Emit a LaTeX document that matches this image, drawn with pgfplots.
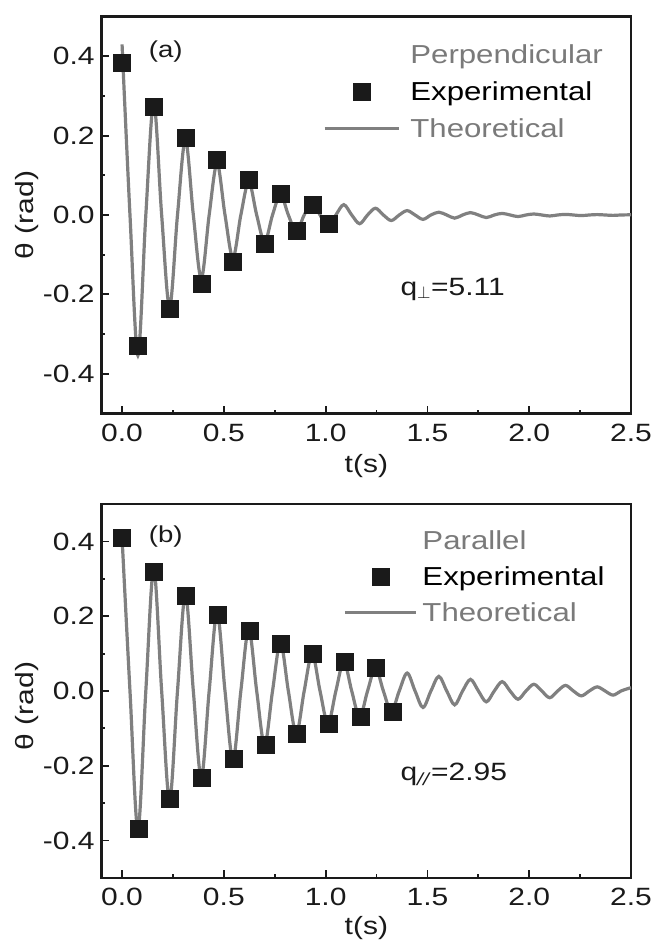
\documentclass[border=0pt]{standalone}
\usepackage{pgfplots}
\pgfplotsset{compat=1.18}
\usepackage{fontspec}
\setmainfont{Liberation Sans}[FakeStretch=1.2]
\definecolor{curve}{HTML}{808080}
\definecolor{ink}{HTML}{1A1A1A}
\definecolor{legray}{HTML}{7A7A7A}
\newcommand{\bigf}{\fontsize{25}{30}\selectfont}
\newcommand{\legf}{\fontsize{26}{30}\selectfont}
\pgfplotsset{
  panel/.style={
    scale only axis, width=529.3pt,
    xmin=-0.1, xmax=2.5, ymin=-0.5, ymax=0.5,
    xtick={0,0.5,1,1.5,2,2.5}, ytick={-0.4,-0.2,0,0.2,0.4},
    minor x tick num=1, minor y tick num=1,
    tick align=inside, tick pos=left,
    axis line style={line width=2.6pt, ink},
    every tick/.style={line width=1.8pt, ink},
    major tick length=7.7pt, minor tick length=3.5pt,
    tick label style={font=\bigf, text=ink},
    /pgf/number format/assume math mode=true,
    xticklabel style={/pgf/number format/.cd, fixed, fixed zerofill, precision=1, /tikz/.cd, yshift=-7pt},
    yticklabel style={/pgf/number format/.cd, fixed, fixed zerofill, precision=1, /tikz/.cd, xshift=-3.5pt},
    legend cell align=left,
    every axis x label/.style={at={(axis description cs:0.5,-0.134)}, anchor=center, font=\bigf, text=ink},
    xlabel={t(s)},
    ylabel={θ (rad)},
  },
  legA/.style={legend image code/.code={\draw[mark repeat=2,mark phase=2,##1] plot coordinates {(0pt,0pt) (37pt,0pt) (74pt,0pt)};}},
  legB/.style={legend image code/.code={\draw[mark repeat=2,mark phase=2,##1] plot coordinates {(0pt,0pt) (35.5pt,0pt) (71pt,0pt)};}},
  titleA/.style={legend image code/.code={\path[draw=none, fill=none] (0pt,-1pt) rectangle (74pt,1pt);}},
  titleB/.style={legend image code/.code={\path[draw=none, fill=none] (0pt,-1pt) rectangle (71pt,1pt);}},
  expstyle/.style={only marks, mark=square*, mark size=8.5pt, mark options={fill=ink, draw=ink, line width=0.4pt}},
  theostyle/.style={curve, line width=3.2pt, smooth, tension=0.55, no marks},
}
\begin{document}
\begin{tikzpicture}
\path[use as bounding box] (0,0) rectangle (656pt,950pt);
% ---------------- panel (a)
\begin{axis}[panel, legA, at={(101.7pt,536.7pt)}, anchor=south west, height=396.6pt,
  every axis y label/.style={at={(axis description cs:-0.141,0.5)}, rotate=90, anchor=center, font=\bigf, text=ink},
  legend style={draw=none, fill=none, font=\legf, at={(0.418,0.935)}, anchor=north west, row sep=12.5pt, inner sep=0pt,
    /tikz/every odd column/.append style={column sep=8pt}},
]
\addlegendimage{titleA}
\addlegendentry{\textcolor{legray}{Perpendicular}}
\addplot[expstyle] coordinates {
(0,0.383) (0.078,-0.329) (0.156,0.274) (0.234,-0.237) (0.312,0.196) (0.39,-0.172) (0.467,0.139)
(0.545,-0.117) (0.623,0.089) (0.70,-0.073) (0.778,0.053) (0.856,-0.04) (0.934,0.025) (1.013,-0.021)};
\addlegendentry{Experimental}
\addplot[theostyle] coordinates {
(0,0.43) (0.0389,0) (0.0778,-0.354) (0.1167,0) (0.1556,0.283) (0.1945,0) (0.2334,-0.232) (0.2723,0)
(0.3112,0.19) (0.3501,0) (0.389,-0.16) (0.4279,0) (0.4668,0.13) (0.5057,0) (0.5446,-0.108) (0.5835,0)
(0.6224,0.084) (0.6613,0) (0.7002,-0.068) (0.7391,0) (0.778,0.052) (0.8169,0) (0.8558,-0.042) (0.8947,0)
(0.9336,0.032) (0.9725,0) (1.0114,-0.03) (1.0503,0) (1.0892,0.026) (1.1281,0) (1.167,-0.022) (1.2059,0)
(1.2448,0.017) (1.2837,0) (1.3226,-0.014) (1.3615,0) (1.4004,0.011) (1.4393,0) (1.4782,-0.011) (1.5171,0)
(1.556,0.007) (1.5949,0) (1.6338,-0.008) (1.6727,0) (1.7116,0.006) (1.7505,0) (1.7894,-0.0065) (1.8283,0)
(1.8672,0.004) (1.9061,0) (1.945,-0.004) (1.9839,0) (2.0228,0.0025) (2.0617,0) (2.1006,-0.0025) (2.1395,0)
(2.1784,0.0015) (2.2173,0) (2.2562,-0.0015) (2.2951,0) (2.334,0.001) (2.3729,0) (2.4118,-0.001) (2.4507,0) (2.5,0.0005)};
\addlegendentry{\textcolor{legray}{Theoretical}}
\node[font=\fontsize{23}{27}\selectfont, text=ink] at (axis cs:0.215,0.413) {(a)};
\node[font=\bigf, text=ink, anchor=west, inner sep=0pt] at (axis cs:1.367,-0.187) {q\textsubscript{$\perp$}=5.11};
\end{axis}
% ---------------- panel (b)
\begin{axis}[panel, legB, at={(101.7pt,72pt)}, anchor=south west, height=374pt,
  every axis y label/.style={at={(axis description cs:-0.141,0.46)}, rotate=90, anchor=center, font=\bigf, text=ink},
  legend style={draw=none, fill=none, font=\legf, at={(0.456,0.935)}, anchor=north west, row sep=11.5pt, inner sep=0pt,
    /tikz/every odd column/.append style={column sep=3pt}},
]
\addlegendimage{titleB}
\addlegendentry{\textcolor{legray}{Parallel}}
\addplot[expstyle] coordinates {
(0,0.41) (0.081,-0.368) (0.157,0.32) (0.235,-0.288) (0.312,0.256) (0.392,-0.231) (0.469,0.204)
(0.548,-0.182) (0.625,0.162) (0.705,-0.143) (0.781,0.127) (0.858,-0.114) (0.936,0.099) (1.015,-0.088)
(1.095,0.078) (1.172,-0.069) (1.248,0.062) (1.328,-0.055)};
\addlegendentry{Experimental}
\addplot[theostyle] coordinates {
(0,0.41) (0.0389,0) (0.0778,-0.37) (0.1167,0) (0.1556,0.326) (0.1945,0) (0.2334,-0.292) (0.2723,0)
(0.3112,0.259) (0.3501,0) (0.389,-0.232) (0.4279,0) (0.4668,0.21) (0.5057,0) (0.5446,-0.185) (0.5835,0)
(0.6224,0.166) (0.6613,0) (0.7002,-0.145) (0.7391,0) (0.778,0.13) (0.8169,0) (0.8558,-0.114) (0.8947,0)
(0.9336,0.1) (0.9725,0) (1.0114,-0.088) (1.0503,0) (1.0892,0.079) (1.1281,0) (1.167,-0.07) (1.2059,0)
(1.2448,0.062) (1.2837,0) (1.3226,-0.055) (1.3615,0) (1.4004,0.048) (1.4393,0) (1.4782,-0.044) (1.5171,0)
(1.556,0.039) (1.5949,0) (1.6338,-0.037) (1.6727,0) (1.7116,0.031) (1.7505,0) (1.7894,-0.029) (1.8283,0)
(1.8672,0.025) (1.9061,0) (1.945,-0.022) (1.9839,0) (2.0228,0.018) (2.0617,0) (2.1006,-0.018) (2.1395,0)
(2.1784,0.015) (2.2173,0) (2.2562,-0.013) (2.2951,0) (2.334,0.011) (2.3729,0) (2.4118,-0.011) (2.4507,0) (2.5,0.009)};
\addlegendentry{\textcolor{legray}{Theoretical}}
\node[font=\fontsize{23}{27}\selectfont, text=ink] at (axis cs:0.215,0.413) {(b)};
\node[font=\bigf, text=ink, anchor=west, inner sep=0pt] at (axis cs:1.367,-0.224) {q\textsubscript{\textit{//}}=2.95};
\end{axis}
\end{tikzpicture}
\end{document}
